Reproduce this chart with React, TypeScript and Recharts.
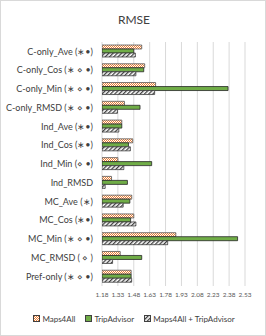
import React from 'react';
import { BarChart, Bar, XAxis, YAxis, CartesianGrid } from 'recharts';

const categories = [
  'C-only_Ave (∗•)',
  'C-only_Cos (∗ ⋄ •)',
  'C-only_Min (∗ ⋄ •)',
  'C-only_RMSD (∗ ⋄ •)',
  'Ind_Ave (∗•)',
  'Ind_Cos (∗•)',
  'Ind_Min (⋄ •)',
  'Ind_RMSD',
  'MC_Ave (∗)',
  'MC_Cos (∗•)',
  'MC_Min (∗ ⋄ •)',
  'MC_RMSD ( ⋄ )',
  'Pref-only (∗ ⋄ •)',
];
const maps4all = [1.555, 1.583, 1.686, 1.392, 1.367, 1.47, 1.33, 1.27, 1.461, 1.48, 1.877, 1.352, 1.455];
const tripadvisor = [1.48, 1.574, 2.37, 1.539, 1.367, 1.43, 1.649, 1.42, 1.443, 1.45, 2.46, 1.555, 1.455];
const combined = [1.495, 1.5, 1.677, 1.326, 1.339, 1.448, 1.386, 1.21, 1.38, 1.5, 1.8, 1.28, 1.46];
const xTicks = [1.18, 1.33, 1.48, 1.63, 1.78, 1.93, 2.08, 2.23, 2.38, 2.53];
const seriesNames = ['Maps4All', 'TripAdvisor', 'Maps4All + TripAdvisor'];

const data = categories.map((c, i) => ({
  name: c,
  m: maps4all[i],
  t: tripadvisor[i],
  c: combined[i],
}));

const FONT = 'Lato, "Open Sans", sans-serif';

const CatTick = (props: any) => {
  const { x, y, payload } = props;
  return (
    <text x={x} y={y} dy="0.35em" textAnchor="end" fontSize={9} fill="#404040" fontFamily={FONT}>
      {payload.value}
    </text>
  );
};

const Icon = ({ fill }: { fill: string }) => (
  <svg width={7} height={7} style={{ display: 'inline-block', verticalAlign: 'middle', marginRight: 2, marginTop: -2 }}>
    <rect x={0.5} y={0.5} width={6} height={6} fill={fill} stroke="#404040" strokeWidth={1} />
  </svg>
);

export default function App() {
  return (
    <div
      style={{
        position: 'absolute',
        left: 0,
        top: 0,
        width: 266,
        height: 336,
        background: '#fff',
        border: '1px solid #d9d9d9',
        boxSizing: 'border-box',
        fontFamily: FONT,
      }}
    >
      <svg width={0} height={0} style={{ position: 'absolute' }}>
        <defs>
          <pattern id="pOrange" patternUnits="userSpaceOnUse" width={2} height={2}>
            <rect x={0} y={0} width={2} height={2} fill="#ffffff" />
            <rect x={0} y={0} width={1} height={1} fill="#ED7D31" />
            <rect x={1} y={1} width={1} height={1} fill="#ED7D31" />
          </pattern>
          <pattern id="pHatch" patternUnits="userSpaceOnUse" width={3} height={3} patternTransform="rotate(45)">
            <rect x={0} y={0} width={3} height={3} fill="#ffffff" />
            <rect x={0} y={0} width={1.3} height={3} fill="#404040" />
          </pattern>
        </defs>
      </svg>
      <div
        style={{
          position: 'absolute',
          left: 0,
          top: 11,
          width: 266,
          textAlign: 'center',
          fontSize: 12,
          color: '#404040',
          fontFamily: FONT,
        }}
      >
        RMSE
      </div>
      <div style={{ position: 'absolute', left: -1, top: -1 }}>
        <BarChart
          width={266}
          height={336}
          data={data}
          layout="vertical"
          margin={{ top: 42, right: 21, left: 0, bottom: 30 }}
          barSize={4}
          barGap={0}
        >
          <CartesianGrid horizontal={false} vertical={true} stroke="#d9d9d9" strokeWidth={1} />
          <XAxis
            type="number"
            domain={[1.18, 2.53]}
            ticks={xTicks}
            allowDataOverflow
            axisLine={false}
            tickLine={false}
            tickSize={0}
            tickMargin={6}
            height={20}
            interval={0}
            tick={{ fontSize: 6.5, fill: '#595959', fontFamily: FONT }}
            tickFormatter={(v: number) => v.toFixed(2)}
          />
          <YAxis
            type="category"
            dataKey="name"
            width={102}
            axisLine={false}
            tickLine={false}
            tickSize={0}
            tickMargin={9}
            interval={0}
            tick={<CatTick />}
          />
          <Bar dataKey="m" name={seriesNames[0]} fill="url(#pOrange)" stroke="#595959" strokeWidth={0.8} isAnimationActive={false} />
          <Bar dataKey="t" name={seriesNames[1]} fill="#70AD47" stroke="#262626" strokeWidth={0.8} isAnimationActive={false} />
          <Bar dataKey="c" name={seriesNames[2]} fill="url(#pHatch)" stroke="#404040" strokeWidth={0.8} isAnimationActive={false} />
        </BarChart>
      </div>
      <div
        style={{
          position: 'absolute',
          left: 0,
          top: 312,
          width: 266,
          display: 'flex',
          justifyContent: 'center',
          gap: 10,
          fontSize: 8,
          color: '#404040',
          fontFamily: FONT,
          lineHeight: '12px',
        }}
      >
        <span><Icon fill="url(#pOrange)" />{seriesNames[0]}</span>
        <span><Icon fill="#70AD47" />{seriesNames[1]}</span>
        <span><Icon fill="url(#pHatch)" />{seriesNames[2]}</span>
      </div>
    </div>
  );
}
